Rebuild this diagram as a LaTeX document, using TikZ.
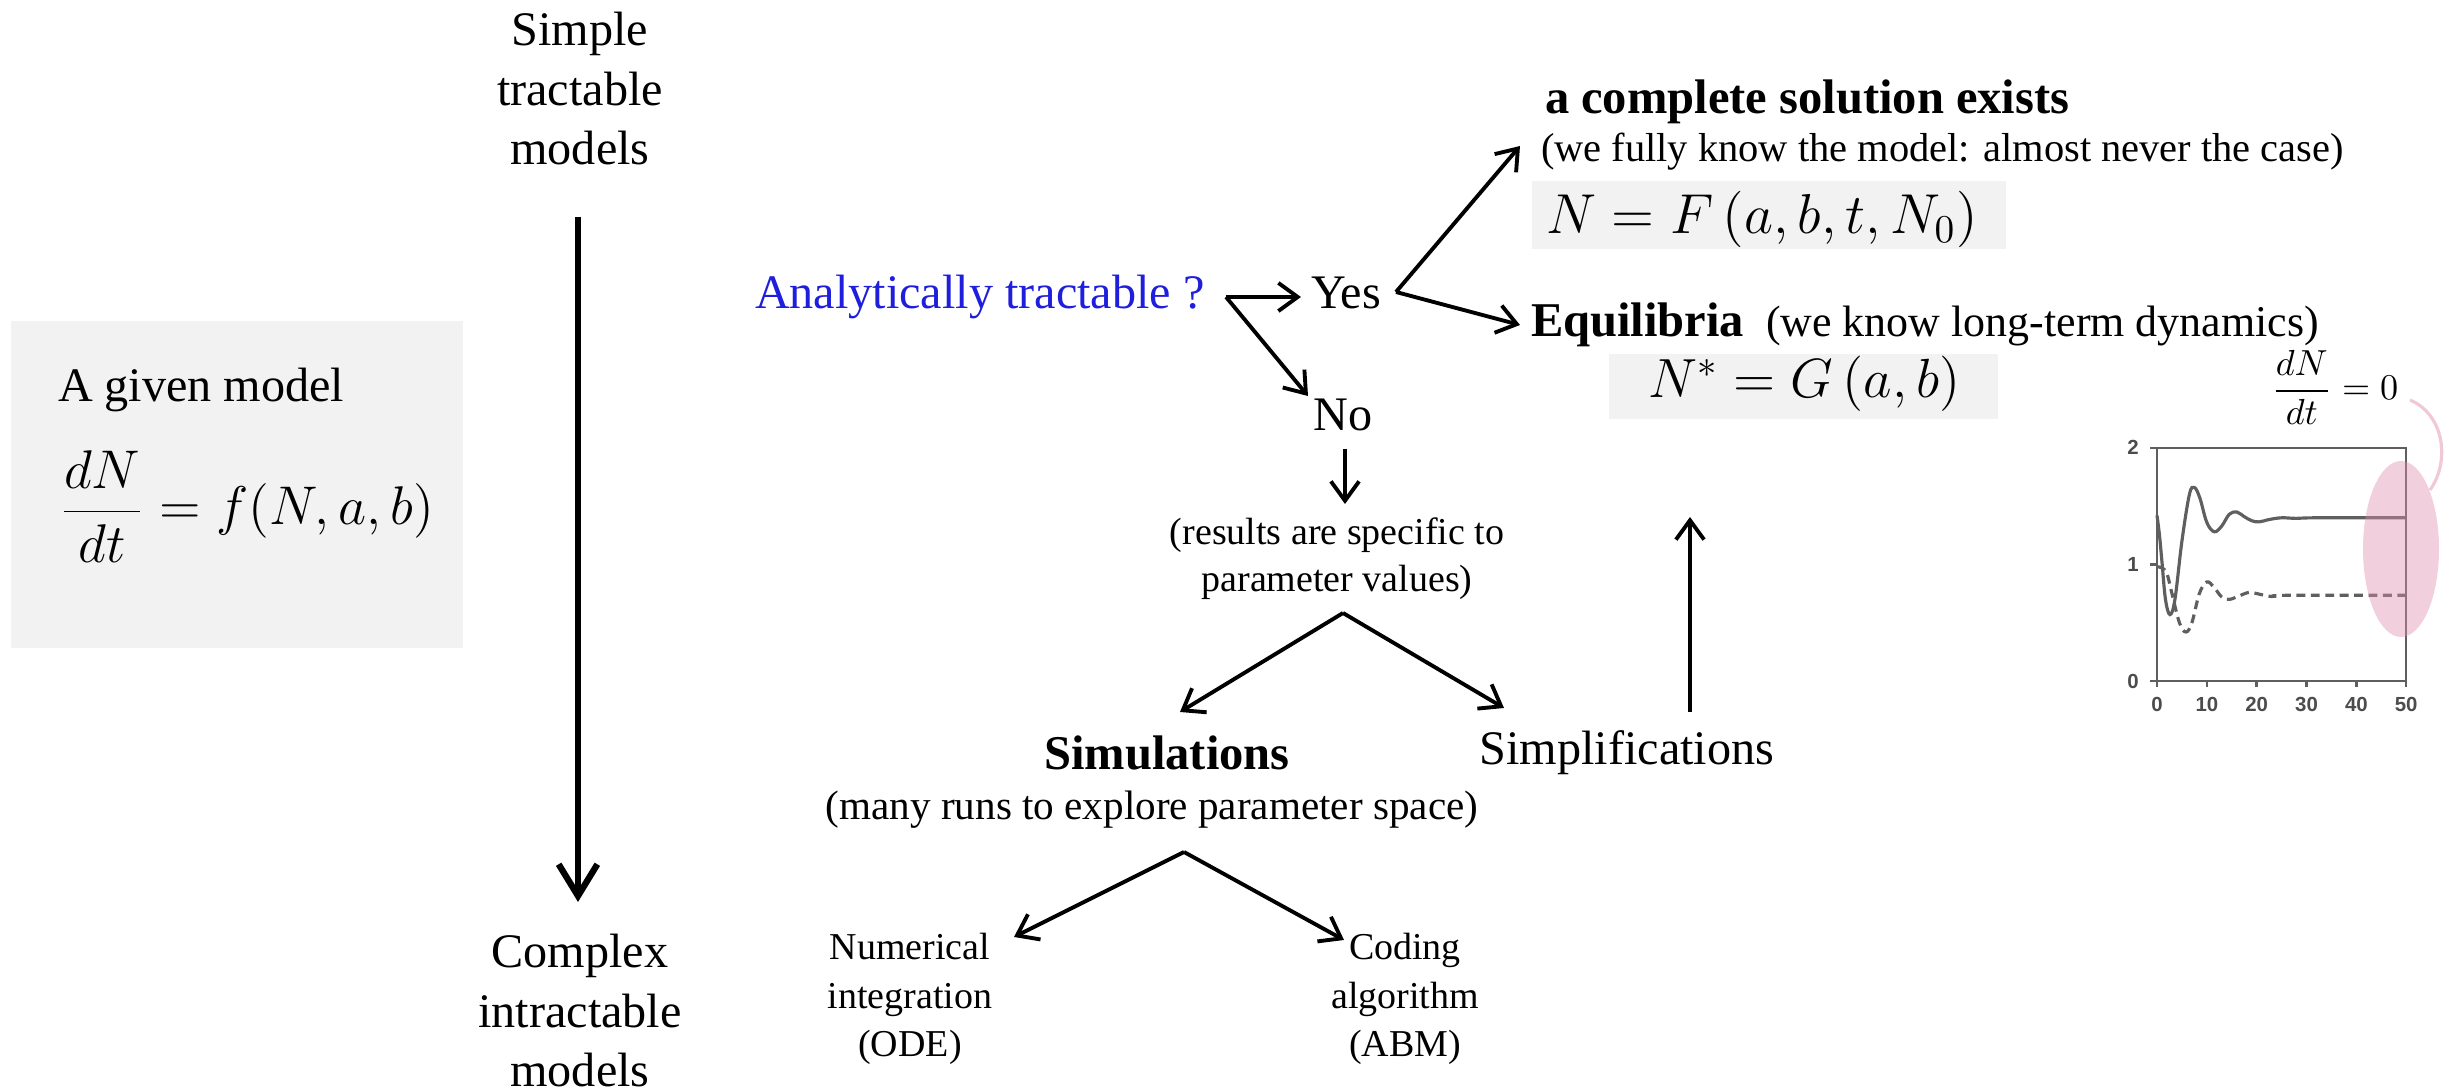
\RequirePackage{fix-cm}
\documentclass[tikz,border=0pt]{standalone}
\usepackage[no-math]{fontspec}
\setmainfont{Liberation Serif}
\newfontfamily\plotfont{Liberation Sans}
\usetikzlibrary{arrows.meta}
\definecolor{boxgray}{RGB}{242,242,242}
\definecolor{qblue}{RGB}{30,30,220}
\definecolor{pinkfill}{RGB}{222,140,172}
\definecolor{pinkline}{RGB}{240,200,215}
\definecolor{plotgray}{RGB}{95,95,95}
\newcommand\myfs[2]{\fontsize{#1pt}{#2pt}\selectfont}
\tikzset{
  txt/.style={inner sep=0pt, outer sep=0pt},
  tbig/.style={font=\myfs{13.7}{17}},
  tbold/.style={font=\myfs{13.8}{17}\bfseries},
  tsmall/.style={font=\myfs{10.8}{13.6}},
  tnote/.style={font=\myfs{11.5}{14}},
  arr/.style={line width=1.1pt, -{Straight Barb[length=5.5pt,width=8pt,line width=1.1pt]}},
  bigarr/.style={line width=1.8pt, -{Straight Barb[length=9pt,width=11pt,line width=1.8pt]}},
  graybox/.style={fill=boxgray, draw=none, inner sep=0pt, anchor=north west},
  plotlbl/.style={inner sep=0pt, font=\plotfont\bfseries\myfs{5.8}{6.5}, text=black!70},
}
\begin{document}
\begin{tikzpicture}[x=0.01cm,y=-0.01cm]
\useasboundingbox (0,0) rectangle (2450,1092);

% ---------- left column ----------
\node[txt,tbig,align=center,anchor=base] (simple) at (580,165) {Simple\\tractable\\models};
\node[txt,tbig,align=center,anchor=base] (complex) at (580,1087) {Complex\\intractable\\models};
\coordinate (lstart) at (578,217);
\coordinate (lend) at (578,902);
\draw[bigarr] (lstart) -- (lend);

% ---------- model box ----------
\node[graybox, minimum width=4.52cm, minimum height=3.27cm] (modelbox) at (10,320) {};
\node[txt,tbig,anchor=base west] (given) at (58,402) {A given model};
\node[txt,anchor=base west,font=\myfs{15.5}{18}] (ode) at (60,525) {$\displaystyle\frac{dN}{dt} = f(N,a,b)$};

% ---------- question ----------
\node[txt,tbig,text=qblue,anchor=base west] (q) at (755,309) {Analytically tractable ?};
\node[txt,tbig,anchor=base west] (yes) at (1311,309) {Yes};
\node[txt,tbig,anchor=base] (no) at (1343,431) {No};
\coordinate (qs) at (1226,297);
\coordinate (yestip) at (1301,297);
\coordinate (notip) at (1308,396);
\draw[arr] (qs) -- (yestip);
\draw[arr] (qs) -- (notip);

% ---------- yes branch ----------
\coordinate (yv) at (1396,292);
\coordinate (soltip) at (1520,146);
\coordinate (eqtip) at (1520,325);
\draw[arr] (yv) -- (soltip);
\draw[arr] (yv) -- (eqtip);

\node[txt,tbold,anchor=base west] (sol) at (1545,114) {a complete solution exists};
\node[txt,tnote,anchor=base west] (solnote) at (1541,162) {(we fully know the model: almost never the case)};
\node[graybox, minimum width=4.74cm, minimum height=0.68cm] (fbox) at (1531,180) {};
\node[txt,anchor=base west,font=\myfs{16}{19}] (fsol) at (1546,234) {$N = F\left(a, b, t, N_0\right)$};

\node[txt,tbold,anchor=base west] (eq) at (1531,337) {Equilibria};
\node[txt,anchor=base west,font=\myfs{12.5}{15}] (eqnote) at (1766,337) {(we know long-term dynamics)};
\node[graybox, minimum width=3.89cm, minimum height=0.65cm] (gbox) at (1608,353) {};
\node[txt,anchor=base west,font=\myfs{15.7}{18}] (geq) at (1648,398) {$N^{*} = G\left(a, b\right)$};

% ---------- no branch ----------
\coordinate (nos) at (1345,449);
\coordinate (noe) at (1345,504);
\draw[arr] (nos) -- (noe);
\node[txt,tsmall,align=center,anchor=base] (res) at (1337,592) {(results are specific to\\parameter values)};
\coordinate (v1) at (1343,613);
\coordinate (simtip) at (1180,712);
\coordinate (simptip) at (1504,708);
\draw[arr] (v1) -- (simtip);
\draw[arr] (v1) -- (simptip);

\node[txt,tbold,anchor=base] (sim) at (1167,770) {Simulations};
\node[txt,anchor=base,font=\myfs{11.7}{14}] (simnote) at (1152,820) {(many runs to explore parameter space)};
\node[txt,tbig,anchor=base] (simp) at (1627,765) {Simplifications};
\coordinate (ups) at (1690,712);
\coordinate (upe) at (1690,517);
\draw[arr] (ups) -- (upe);

\coordinate (v2) at (1184,852);
\coordinate (numtip) at (1014,937);
\coordinate (codtip) at (1344,940);
\draw[arr] (v2) -- (numtip);
\draw[arr] (v2) -- (codtip);
\node[txt,tsmall,align=center,anchor=base,font=\myfs{10.8}{13.8}] (num) at (910,1057) {Numerical\\integration\\(ODE)};
\node[txt,tsmall,align=center,anchor=base,font=\myfs{10.8}{13.8}] (cod) at (1405,1057) {Coding\\algorithm\\(ABM)};

% ---------- plot ----------
\begin{scope}[shift={(2157,681)}, x=0.0498cm, y=1.165cm]
  \draw[plotgray, line width=0.7pt] (0,0) rectangle (50,2);
  \foreach \v in {0,1,2} {
    \draw[plotgray, line width=0.7pt] (-1.4,\v) -- (0,\v);
    \node[plotlbl] at (-4.8,\v) {\v};
  }
  \foreach \t in {0,10,20,30,40,50} {
    \draw[plotgray, line width=0.7pt] (\t,0) -- (\t,-0.05);
    \node[plotlbl] at (\t,-0.205) {\t};
  }
  \draw[plotgray, line width=0.9pt] plot[smooth, tension=0.6] coordinates {
    (0,1.42) (0.5,1.25) (1,1.02) (1.7,0.7) (2.6,0.57) (3.6,0.70) (5,1.2) (6.5,1.6)
    (7.5,1.66) (8.6,1.57) (10,1.36) (11.5,1.28) (13,1.33) (14.5,1.43) (16,1.45)
    (17.5,1.41) (19,1.375) (20.5,1.365) (22.5,1.385) (25,1.40) (28,1.395) (32,1.40) (50,1.40)};
  \draw[plotgray, line width=0.9pt, dash pattern=on 2.5pt off 1.6pt] plot[smooth, tension=0.6] coordinates {
    (0,0.98) (1,0.97) (2,0.92) (3,0.75) (4.5,0.5) (5.8,0.42) (7,0.5) (8.5,0.75)
    (10,0.85) (11.5,0.8) (13,0.72) (14.5,0.70) (16.5,0.73) (18.5,0.76) (20.5,0.745)
    (23,0.725) (26,0.735) (50,0.735)};
\end{scope}
\fill[pinkfill, fill opacity=0.42] (2401,549) ellipse [x radius=38, y radius=88];
\node[txt,anchor=base,font=\myfs{10.3}{12}] (zero) at (2335,400) {$\displaystyle\frac{dN}{dt}=0$};
\coordinate (arcs) at (2410,400);
\coordinate (arce) at (2430,490);
\draw[pinkline, line width=0.9pt] (arcs) .. controls (2445,415) and (2450,462) .. (arce);
\end{tikzpicture}
\end{document}
